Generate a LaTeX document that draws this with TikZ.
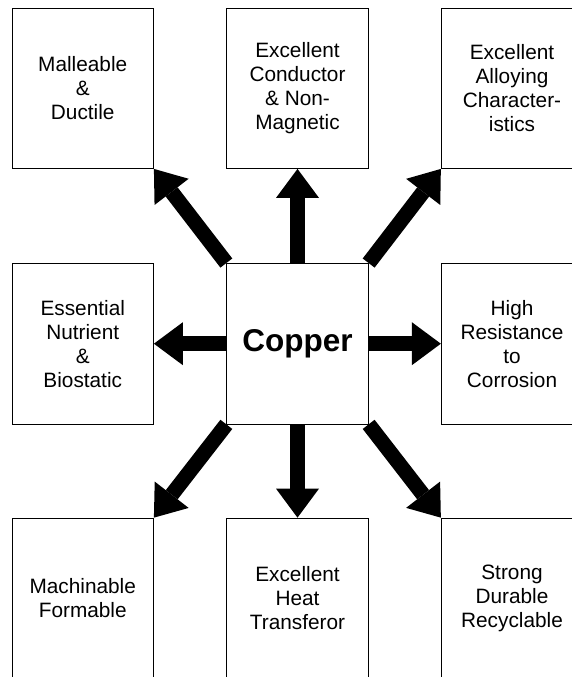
\documentclass[tikz,border=0pt]{standalone}
\usepackage{fontspec}
\setmainfont{Liberation Sans}
\usetikzlibrary{arrows.meta}
\begin{document}
\begin{tikzpicture}[x=1pt,y=-1pt,
  propbox/.style={draw=black,line width=0.8pt,fill=white,minimum width=141.5pt,minimum height=160.5pt,inner sep=0pt,align=center,font=\fontsize{20.8pt}{24pt}\selectfont},
  corebox/.style={propbox,font=\fontsize{31.5pt}{36pt}\selectfont\bfseries},
  bigarrow/.style={line width=15pt,line cap=butt,-{Triangle[width=43pt,length=29pt,line width=0pt]}}]
\useasboundingbox (0,0) rectangle (572,677);
\clip (0,0) rectangle (572,677);
\node[propbox] (tl) at (82.75,88.25) {Malleable\\\&\\Ductile};
\node[propbox] (tm) at (297.5,88.25) {Excellent\\Conductor\\\& Non-\\Magnetic};
\node[propbox] (tr) at (512,88.25) {Excellent\\Alloying\\Character-\\istics};
\node[propbox] (ml) at (82.75,343.7) {Essential\\Nutrient\\\&\\Biostatic};
\node[corebox] (cu) at (297.5,343.7) {Copper};
\node[propbox] (mr) at (512,343.7) {High\\Resistance\\to\\Corrosion};
\node[propbox] (bl) at (82.75,598.3) {Machinable\\Formable};
\node[propbox] (bm) at (297.5,598.3) {Excellent\\Heat\\Transferor};
\node[propbox] (br) at (512,598.3) {Strong\\Durable\\Recyclable};
\draw[bigarrow] (cu.north west) -- (tl.south east);
\draw[bigarrow] (cu.north) -- (tm.south);
\draw[bigarrow] (cu.north east) -- (tr.south west);
\draw[bigarrow] (cu.west) -- (ml.east);
\draw[bigarrow] (cu.east) -- (mr.west);
\draw[bigarrow] (cu.south west) -- (bl.north east);
\draw[bigarrow] (cu.south) -- (bm.north);
\draw[bigarrow] (cu.south east) -- (br.north west);
\end{tikzpicture}
\end{document}
